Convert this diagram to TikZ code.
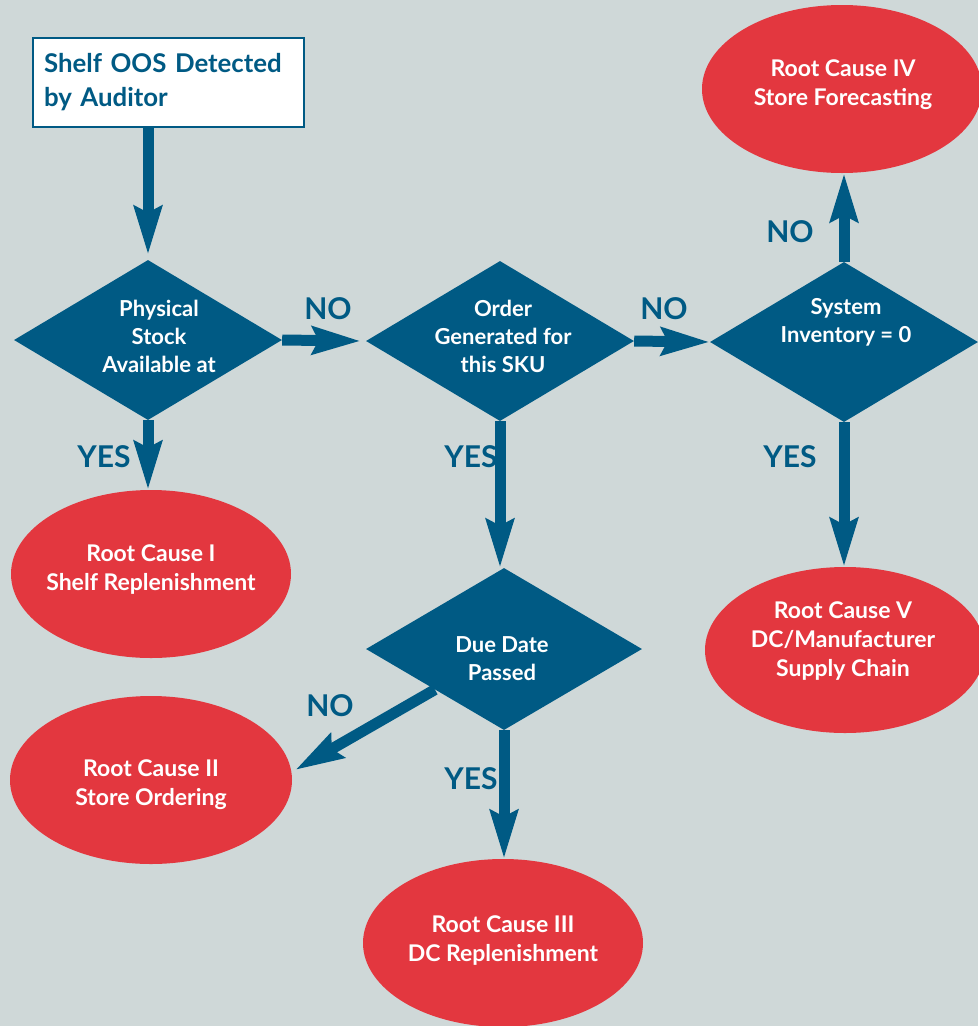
\documentclass[tikz,border=0pt]{standalone}
\usepackage{fontspec}
\setmainfont{Lato}
\usetikzlibrary{shapes.geometric,arrows.meta}
\definecolor{bg}{HTML}{CFD8D8}
\definecolor{navy}{HTML}{005A84}
\definecolor{rc}{HTML}{E3373F}
\begin{document}
\begin{tikzpicture}[x=1pt,y=-1pt,
 dia/.style={diamond, fill=navy, minimum width=268pt, minimum height=160pt, inner sep=0pt},
 ell/.style={ellipse, fill=rc, minimum width=280pt, minimum height=168pt, inner sep=0pt},
 dtext/.style={text=white, font=\bfseries\fontsize{22}{28}\selectfont, align=center},
 etext/.style={text=white, font=\bfseries\fontsize{23}{29}\selectfont, align=center},
 lbl/.style={text=navy, font=\bfseries\fontsize{30}{30}\selectfont},
 flow/.style={draw=navy, line width=11pt, -{Stealth[length=48pt,width=27pt,inset=6pt]}}
]
\fill[bg] (0,0) rectangle (978,1026);
\useasboundingbox (0,0) rectangle (978,1026);

% start box
\node[draw=navy, line width=2.5pt, fill=white, rectangle, minimum width=271pt, minimum height=89pt,
      inner xsep=11pt, inner ysep=0pt, text width=249pt, align=left, text=navy,
      font=\bfseries\fontsize{25.8}{34}\selectfont] (box) at (168.5,82.5) {Shelf OOS Detected\\by Auditor};

% decisions
\node[dia, label={[dtext, xshift=11pt, yshift=4pt]center:{Physical\\Stock\\Available at}}] (d1) at (148,340) {};
\node[dia, label={[dtext, xshift=3pt, yshift=5pt]center:{Order\\Generated for\\this SKU}}] (d2) at (500,341) {};
\node[dia, label={[dtext, xshift=2pt, yshift=20pt]center:{System\\Inventory = 0}}] (d3) at (844,342) {};
\node[dia, minimum width=276pt, minimum height=162pt, label={[dtext, xshift=-2pt, yshift=-9.5pt]center:{Due Date\\Passed}}] (d4) at (504,649) {};

% root causes
\node[ell, label={[etext, yshift=4.5pt]center:{Root Cause I\\Shelf Replenishment}}] (e1) at (151,574) {};
\node[ell, minimum width=282pt, label={[etext, yshift=-5pt]center:{Root Cause II\\Store Ordering}}] (e2) at (151,780) {};
\node[ell, label={[etext, yshift=2.5pt]center:{Root Cause III\\DC Replenishment}}] (e3) at (503,943) {};
\node[ell, label={[etext, xshift=1pt, yshift=4pt]center:{Root Cause IV\\Store Forecasting}}] (e4) at (842,89) {};
\node[ell, minimum height=166pt, label={[etext, xshift=-2pt, yshift=9pt]center:{Root Cause V\\DC/Manufacturer\\Supply Chain}}] (e5) at (845,650) {};

% connectors
\draw[flow] (d1.north |- box.south) -- ([yshift=5pt]d1.north);
\draw[flow] (d1.south) -- (d1.south |- e1.north);
\draw[flow] (d1.east) -- ([xshift=-5pt]d2.west);
\draw[flow] (d2.east) -- (d3.west);
\draw[flow] (d3.north) -- (d3.north |- e4.south);
\draw[flow] (d3.south) -- (d3.south |- e5.north);
\draw[flow] (d2.south) -- (d2.south |- d4.north);
\draw[flow] (d4.south) -- (d4.south |- e3.north);
\draw[flow] (d4.south west) -- ([yshift=10pt,xshift=3pt]e2.east);

% labels
\node[lbl] (n1) at (328,309) {NO};
\node[lbl] (n2) at (664,309) {NO};
\node[lbl] (n3) at (790,232) {NO};
\node[lbl] (n4) at (330,706) {NO};
\node[lbl] (y1) at (104,457) {YES};
\node[lbl] (y2) at (471,457) {YES};
\node[lbl] (y3) at (790,457) {YES};
\node[lbl] (y4) at (471,779) {YES};
\end{tikzpicture}
\end{document}
